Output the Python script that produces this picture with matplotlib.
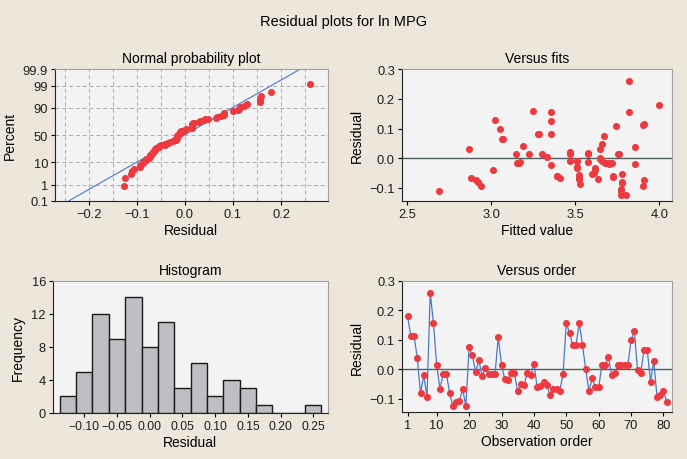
import matplotlib
matplotlib.use('Agg')
import matplotlib.pyplot as plt
import numpy as np
from statistics import NormalDist

plt.rcParams['font.family'] = ['Liberation Sans', 'DejaVu Sans']
plt.rcParams['font.size'] = 10

# residuals in observation order (1..81)
residuals = [
    0.180, 0.114, 0.113, 0.039, -0.081, -0.020, -0.094, 0.260, 0.157, 0.014,
    -0.065, -0.016, -0.016, -0.081, -0.126, -0.110, -0.106, -0.068, -0.124, 0.075,
    0.048, -0.009, 0.032, -0.024, 0.003, -0.015, -0.016, -0.016, 0.110, 0.016,
    -0.034, -0.035, -0.011, -0.014, -0.075, -0.050, -0.053, -0.012, -0.019, 0.019,
    -0.059, -0.058, -0.042, -0.054, -0.087, -0.067, -0.068, -0.072, -0.017, 0.157,
    0.124, 0.082, 0.082, 0.159, 0.082, 0.000, -0.073, -0.031, -0.061, -0.061,
    0.015, 0.015, 0.041, -0.018, -0.011, 0.014, 0.014, 0.014, 0.014, 0.100,
    0.130, -0.003, -0.011, 0.066, 0.065, -0.042, 0.030, -0.093, -0.086, -0.072,
    -0.111,
]

# fitted values (ln MPG) for the same observations
fits = [
    4.000, 3.910, 3.905, 3.855, 2.923, 3.700, 3.905, 3.820, 3.820, 3.150,
    3.725, 3.155, 3.160, 3.780, 3.805, 2.690, 3.775, 2.883, 3.770, 3.670,
    3.660, 3.510, 2.866, 3.358, 3.330, 3.680, 3.690, 3.165, 3.740, 3.575,
    3.620, 3.510, 3.470, 3.575, 2.909, 3.610, 3.600, 3.175, 3.855, 3.470,
    3.394, 3.520, 3.013, 3.780, 3.530, 3.410, 3.520, 3.635, 3.710, 3.358,
    3.358, 3.280, 3.358, 3.250, 3.285, 3.650, 3.910, 3.510, 3.725, 3.395,
    3.225, 3.300, 3.190, 3.720, 3.660, 3.755, 3.760, 3.470, 3.575, 3.055,
    3.025, 3.650, 3.510, 3.067, 3.070, 3.620, 3.650, 2.939, 3.780, 3.525,
    3.775,
]

pct_ticks = [0.1, 1, 10, 50, 90, 99, 99.9]
hist_ticks = [-0.10, -0.05, 0.00, 0.05, 0.10, 0.15, 0.20, 0.25]
order_ticks = [1, 10, 20, 30, 40, 50, 60, 70, 80]

bg = '#ECE6DB'
face = '#F3F3F3'
red = '#EC3A40'
blue = '#4A78C8'
refline = '#4F5F5F'
tick_fs = 9.3

res = np.array(residuals)
fit = np.array(fits)
obs = np.arange(1, len(res) + 1)
nd = NormalDist()


def style(ax):
    ax.set_facecolor(face)
    for s in ['top', 'right']:
        ax.spines[s].set_color('#A0A0A0')
    for s in ['left', 'bottom']:
        ax.spines[s].set_color('#222222')
    ax.tick_params(direction='out', length=3, width=0.8, labelsize=tick_fs, pad=2,
                   labelcolor='#1E1E1E')


def minus(vals, fmt):
    return [format(v, fmt).replace('-', '\u2212') for v in vals]


fig = plt.figure(figsize=(6.87, 4.6), dpi=100)
fig.patch.set_facecolor(bg)
fig.text(0.5, 0.952, 'Residual plots for ln MPG', ha='center', va='center', fontsize=10.5)

# -----------------------------------------------------------------------------------------------------------------------
# normal probability plot
ax1 = fig.add_axes([0.080, 0.561, 0.397, 0.286])
style(ax1)
srt = np.sort(res)
n = len(srt)
z = np.array([nd.inv_cdf((i - 0.3) / (n + 0.4)) for i in range(1, n + 1)])
zlo, zhi = nd.inv_cdf(0.001), nd.inv_cdf(0.999)
mu, sd = res.mean(), res.std(ddof=1)
ax1.plot([mu + sd * zlo, mu + sd * zhi], [zlo, zhi], color=blue, linewidth=0.8, zorder=2)
ax1.scatter(srt, z, s=26, color=red, zorder=3, linewidths=0)
ax1.set_xlim(-0.27, 0.297)
ax1.set_ylim(zlo, zhi)
ax1.set_yticks([nd.inv_cdf(p / 100) for p in pct_ticks])
ax1.set_yticklabels([f'{p:g}' for p in pct_ticks])
ax1.set_xticks([-0.2, -0.1, 0.0, 0.1, 0.2])
ax1.set_xticklabels(minus([-0.2, -0.1, 0.0, 0.1, 0.2], '.1f'))
for gx in np.arange(-0.25, 0.26, 0.05):
    ax1.axvline(gx, color='#AAAAAA', linestyle=(0, (4, 3)), linewidth=0.7, zorder=1)
for p in pct_ticks[1:-1]:
    ax1.axhline(nd.inv_cdf(p / 100), color='#AAAAAA', linestyle=(0, (4, 3)), linewidth=0.7, zorder=1)
ax1.set_xlabel('Residual', labelpad=2)
ax1.set_ylabel('Percent', labelpad=4)
ax1.set_title('Normal probability plot', fontsize=10, pad=5)

# -----------------------------------------------------------------------------------------------------------------------
# versus fits
ax2 = fig.add_axes([0.585, 0.561, 0.393, 0.286])
style(ax2)
ax2.axhline(0, color=refline, linewidth=1.0, zorder=1)
ax2.scatter(fit, res, s=26, color=red, zorder=3, linewidths=0)
ax2.set_xlim(2.47, 4.075)
ax2.set_ylim(-0.145, 0.3)
ax2.set_xticks([2.5, 3.0, 3.5, 4.0])
ax2.set_yticks([-0.1, 0.0, 0.1, 0.2, 0.3])
ax2.set_yticklabels(minus([-0.1, 0.0, 0.1, 0.2, 0.3], '.1f'))
ax2.set_xlabel('Fitted value', labelpad=2)
ax2.set_ylabel('Residual', labelpad=4)
ax2.set_title('Versus fits', fontsize=10, pad=5)

# -----------------------------------------------------------------------------------------------------------------------
# histogram
ax3 = fig.add_axes([0.077, 0.100, 0.400, 0.287])
style(ax3)
edges = np.arange(-0.1375, 0.2626, 0.025)
ax3.hist(res, bins=edges, color='#BDBFC2', edgecolor='#1A1A1A', linewidth=1.0, zorder=2)
ax3.set_xlim(-0.148, 0.272)
ax3.set_ylim(0, 16)
ax3.set_yticks([0, 4, 8, 12, 16])
ax3.set_xticks(hist_ticks)
ax3.set_xticklabels(minus(hist_ticks, '.2f'), fontsize=8.8)
ax3.set_xlabel('Residual', labelpad=2)
ax3.set_ylabel('Frequency', labelpad=5)
ax3.set_title('Histogram', fontsize=10, pad=5)

# -----------------------------------------------------------------------------------------------------------------------
# versus order
ax4 = fig.add_axes([0.585, 0.102, 0.393, 0.285])
style(ax4)
ax4.axhline(0, color=refline, linewidth=1.0, zorder=1)
ax4.plot(obs, res, color=blue, linewidth=0.9, zorder=2)
ax4.scatter(obs, res, s=26, color=red, zorder=3, linewidths=0)
ax4.set_xlim(-0.75, 82.6)
ax4.set_ylim(-0.145, 0.3)
ax4.set_xticks(order_ticks)
ax4.set_yticks([-0.1, 0.0, 0.1, 0.2, 0.3])
ax4.set_yticklabels(minus([-0.1, 0.0, 0.1, 0.2, 0.3], '.1f'))
ax4.set_xlabel('Observation order', labelpad=2)
ax4.set_ylabel('Residual', labelpad=4)
ax4.set_title('Versus order', fontsize=10, pad=5)

fig.savefig('out.png', dpi=100, facecolor=bg)
plt.close()
